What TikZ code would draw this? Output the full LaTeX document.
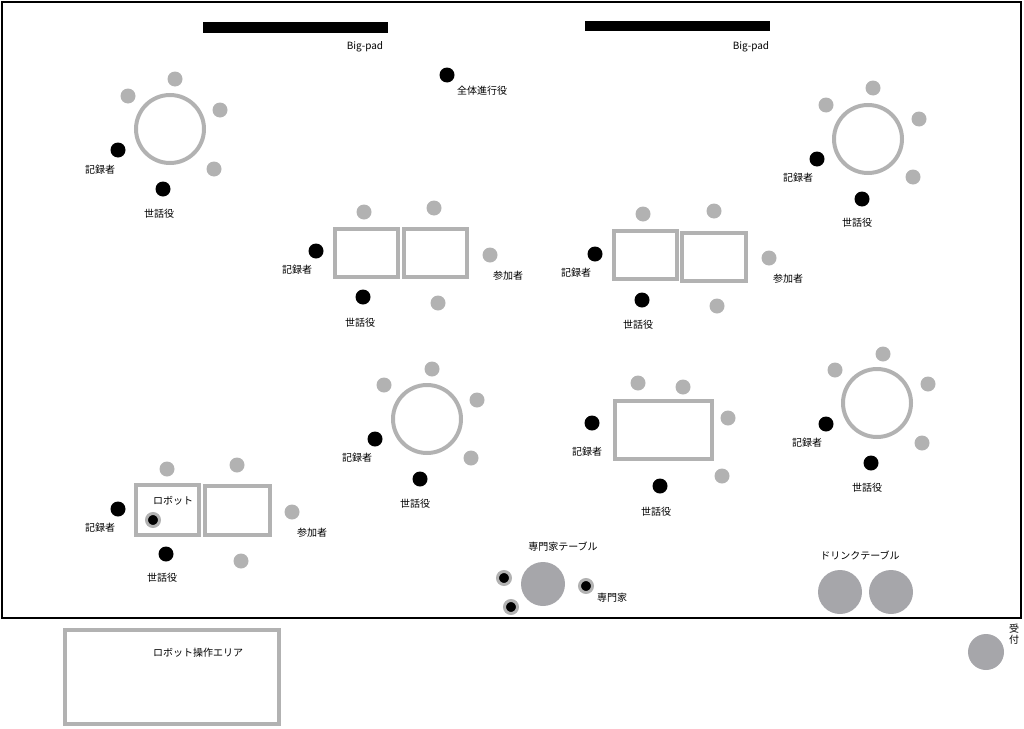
\documentclass[tikz,border=0pt]{standalone}
\usepackage{fontspec}
\setmainfont{Noto Sans CJK JP}
\definecolor{seatgray}{RGB}{178,178,178}
\definecolor{tablegray}{RGB}{166,166,170}
\tikzset{
  seat/.style={circle, fill=seatgray, minimum size=15pt, inner sep=0pt},
  staff/.style={circle, fill=black, minimum size=15pt, inner sep=0pt},
  robot/.style={circle, fill=black, draw=seatgray, line width=3pt, minimum size=13pt, inner sep=0pt},
  roundtable/.style={circle, draw=seatgray, line width=4pt, minimum size=68pt, inner sep=0pt},
  desk/.style={rectangle, draw=seatgray, line width=4pt, inner sep=0pt},
  bigtable/.style={circle, fill=tablegray, inner sep=0pt},
  pad/.style={rectangle, fill=black, minimum width=185pt, inner sep=0pt},
  lbl/.style={font=\fontsize{10}{11}\selectfont, inner sep=0pt}
}
\begin{document}
\begin{tikzpicture}[x=1pt, y=-1pt]
\useasboundingbox (0,0) rectangle (1024,728);
\node (hall) [draw, line width=2pt, minimum width=1019pt, minimum height=616pt, inner sep=0pt] at (511.5,310) {};

\node (pad1) [pad, minimum height=11pt] at (295.5,27.5) {};
\node (pad2) [pad, minimum height=10pt] at (677.5,26) {};
\node (pad1l) [lbl] at (365,47) {Big-pad};
\node (pad2l) [lbl] at (751,47) {Big-pad};
\node (mc) [staff] at (447,75) {};
\node (mcl) [lbl] at (482,91) {全体進行役};

% round tables
\node (t1) [roundtable] at (170,129) {};
\foreach \x/\y [count=\i] in {175/79, 128/96, 220/110, 214/169}
  \node (t1s\i) [seat] at (\x,\y) {};
\node (t1r) [staff] at (118,150) {};
\node (t1h) [staff] at (163,189) {};
\node (t1rl) [lbl] at (100,170) {記録者};
\node (t1hl) [lbl] at (159,214) {世話役};

\node (t2) [roundtable] at (868,139) {};
\foreach \x/\y [count=\i] in {873/88, 826/105, 919/119, 913/177}
  \node (t2s\i) [seat] at (\x,\y) {};
\node (t2r) [staff] at (817,159) {};
\node (t2h) [staff] at (862,199) {};
\node (t2rl) [lbl] at (798,178) {記録者};
\node (t2hl) [lbl] at (857,223) {世話役};

\node (t5) [roundtable] at (427,419) {};
\foreach \x/\y [count=\i] in {432/369, 384/385, 477/400, 471/458}
  \node (t5s\i) [seat] at (\x,\y) {};
\node (t5r) [staff] at (375,439) {};
\node (t5h) [staff] at (420,479) {};
\node (t5rl) [lbl] at (357,458) {記録者};
\node (t5hl) [lbl] at (415,504) {世話役};

\node (t7) [roundtable] at (877,403) {};
\foreach \x/\y [count=\i] in {883/354, 835/370, 928/384, 922/443}
  \node (t7s\i) [seat] at (\x,\y) {};
\node (t7r) [staff] at (826,424) {};
\node (t7h) [staff] at (871,463) {};
\node (t7rl) [lbl] at (807,443) {記録者};
\node (t7hl) [lbl] at (867,488) {世話役};

% desks
\node (t3a) [desk, minimum width=63pt, minimum height=48pt] at (366,253) {};
\node (t3b) [desk, minimum width=63pt, minimum height=48pt] at (435,253) {};
\foreach \x/\y [count=\i] in {364/212, 434/208, 490/255, 438/303}
  \node (t3s\i) [seat] at (\x,\y) {};
\node (t3r) [staff] at (316,251) {};
\node (t3h) [staff] at (363,297) {};
\node (t3rl) [lbl] at (297,270) {記録者};
\node (t3hl) [lbl] at (360,323) {世話役};
\node (t3pl) [lbl] at (508,276) {参加者};

\node (t4a) [desk, minimum width=63pt, minimum height=48pt] at (645,255) {};
\node (t4b) [desk, minimum width=64pt, minimum height=48pt] at (714,257) {};
\foreach \x/\y [count=\i] in {643/214, 714/211, 769/258, 717/306}
  \node (t4s\i) [seat] at (\x,\y) {};
\node (t4r) [staff] at (595,254) {};
\node (t4h) [staff] at (642,300) {};
\node (t4rl) [lbl] at (576,273) {記録者};
\node (t4hl) [lbl] at (638,325) {世話役};
\node (t4pl) [lbl] at (788,279) {参加者};

\node (t6) [desk, minimum width=97pt, minimum height=58pt] at (663.5,430) {};
\foreach \x/\y [count=\i] in {638/383, 683/387, 728/418, 722/476}
  \node (t6s\i) [seat] at (\x,\y) {};
\node (t6r) [staff] at (592,423) {};
\node (t6h) [staff] at (660,486) {};
\node (t6rl) [lbl] at (587,452) {記録者};
\node (t6hl) [lbl] at (656,512) {世話役};

\node (t8a) [desk, minimum width=63pt, minimum height=50pt] at (167.5,510) {};
\node (t8b) [desk, minimum width=65pt, minimum height=49pt] at (237.5,510.5) {};
\foreach \x/\y [count=\i] in {167/469, 237/465, 292/512, 241/561}
  \node (t8s\i) [seat] at (\x,\y) {};
\node (t8r) [staff] at (118,509) {};
\node (t8h) [staff] at (166,554) {};
\node (t8bot) [robot] at (153,520) {};
\node (t8botl) [lbl] at (173,501) {ロボット};
\node (t8rl) [lbl] at (100,528) {記録者};
\node (t8hl) [lbl] at (162,578) {世話役};
\node (t8pl) [lbl] at (312,533) {参加者};

% expert and drink tables
\node (expert) [bigtable, minimum size=44pt] at (543,584) {};
\node (expertl) [lbl] at (563,547) {専門家テーブル};
\node (ex1) [robot] at (504,578) {};
\node (ex2) [robot] at (511,607) {};
\node (ex3) [robot] at (586,586) {};
\node (ex3l) [lbl] at (612,598) {専門家};

\node (drink1) [bigtable, minimum size=44pt] at (840,592) {};
\node (drink2) [bigtable, minimum size=44pt] at (891,592) {};
\node (drinkl) [lbl] at (860,555) {ドリンクテーブル};

% outside the hall
\node (desk) [bigtable, minimum size=36pt] at (986,652) {};
\node (deskl) [lbl, align=center, font=\fontsize{10}{10.5}\selectfont] at (1014,634) {受\\付};
\node (op) [desk, minimum width=214pt, minimum height=94pt] at (172,677) {};
\node (opl) [lbl] at (198,653) {ロボット操作エリア};
\end{tikzpicture}
\end{document}
